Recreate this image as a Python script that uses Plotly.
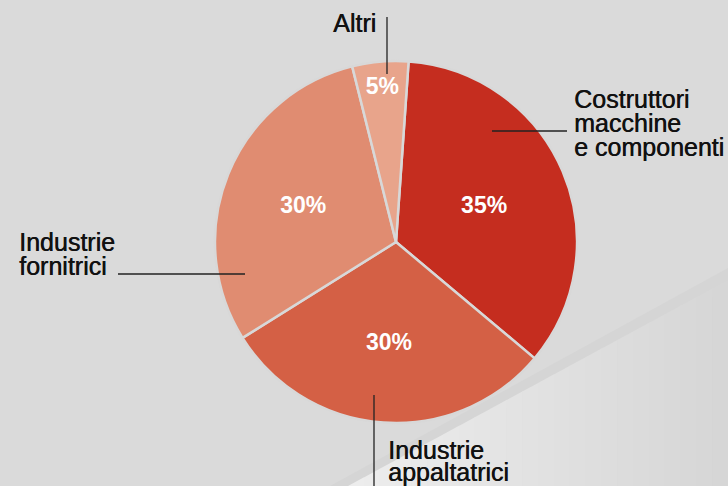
import plotly.graph_objects as go

labels = ["Costruttori macchine e componenti", "Industrie appaltatrici", "Industrie fornitrici", "Altri"]
values = [35, 30, 30, 5]
colors = ["#c52d1f", "#d46045", "#e08c71", "#e8a48b"]

W, H = 728, 486
cx, cy, R = 396, 242, 181

fig = go.Figure()
fig.add_trace(go.Pie(
    labels=labels, values=values, sort=False, direction="clockwise", rotation=4,
    marker=dict(colors=colors, line=dict(color="#d8d8d8", width=2.5)),
    textinfo="percent", texttemplate="%{percent:.0%}", textposition="inside",
    insidetextorientation="horizontal",
    insidetextfont=dict(family="Liberation Sans", size=23, color="white", weight="bold"),
    showlegend=False, hoverinfo="label+percent",
    domain=dict(x=[(cx - R) / W, (cx + R) / W], y=[(H - cy - R) / H, (H - cy + R) / H]),
))

def px(x):
    return x / W

def py(y):
    return 1 - y / H

shapes = []
# subtle darker stripe above the light band
shapes.append(dict(type="path", xref="paper", yref="paper", layer="below",
                   path=f"M {px(330)} {py(486)} L {px(728)} {py(268)} L {px(728)} {py(486)} Z",
                   fillcolor="#d5d5d5", line=dict(width=0)))
# light band with horizontal gradient (drawn as strips)
x_start, x_end = 348, 728
y_left, y_right = 486, 280
n = 24
def edge_y(x):
    return y_left + (y_right - y_left) * (x - x_start) / (x_end - x_start)
c0, c1 = 0xed, 0xd6
for i in range(n):
    xa = x_start + (x_end - x_start) * i / n
    xb = x_start + (x_end - x_start) * (i + 1) / n + 0.6
    xb = min(xb, x_end)
    t = i / (n - 1)
    v = round(c0 + (c1 - c0) * t)
    col = f"#{v:02x}{v:02x}{v:02x}"
    shapes.append(dict(type="path", xref="paper", yref="paper", layer="below",
                       path=f"M {px(xa)} {py(486)} L {px(xa)} {py(edge_y(xa))} L {px(xb)} {py(edge_y(xb))} L {px(xb)} {py(486)} Z",
                       fillcolor=col, line=dict(width=0)))

# leader lines
lines = [((387, 17), (387, 74)), ((492, 131), (567, 131)), ((118, 274), (245, 274)), ((374, 395), (374, 486))]
for (x0, y0), (x1, y1) in lines:
    shapes.append(dict(type="line", xref="paper", yref="paper", layer="above",
                       x0=px(x0), y0=py(y0), x1=px(x1), y1=py(y1),
                       line=dict(color="#222222", width=1.3)))

font = dict(family="Liberation Sans", size=25, color="#111111", shadow="0.5px 0px 0px #111111")
ann = [
    dict(text="Altri", x=px(378), y=py(23), xanchor="right"),
    dict(text="Costruttori", x=px(572), y=py(99), xanchor="left"),
    dict(text="macchine", x=px(572), y=py(123), xanchor="left"),
    dict(text="e componenti", x=px(572), y=py(147), xanchor="left"),
    dict(text="Industrie", x=px(17), y=py(241.5), xanchor="left"),
    dict(text="fornitrici", x=px(17), y=py(265.5), xanchor="left"),
    dict(text="Industrie", x=px(386), y=py(450), xanchor="left"),
    dict(text="appaltatrici", x=px(386), y=py(472), xanchor="left"),
]
for a in ann:
    a.update(xref="paper", yref="paper", showarrow=False, font=font, yanchor="middle")

fig.update_layout(width=W, height=H, margin=dict(l=0, r=0, t=0, b=0),
                  paper_bgcolor="#dadada", plot_bgcolor="#dadada",
                  shapes=shapes, annotations=ann)
fig.write_html("out.html", config={"displayModeBar": False},
               post_script="document.body.style.margin='0';document.body.style.overflow='hidden';")
